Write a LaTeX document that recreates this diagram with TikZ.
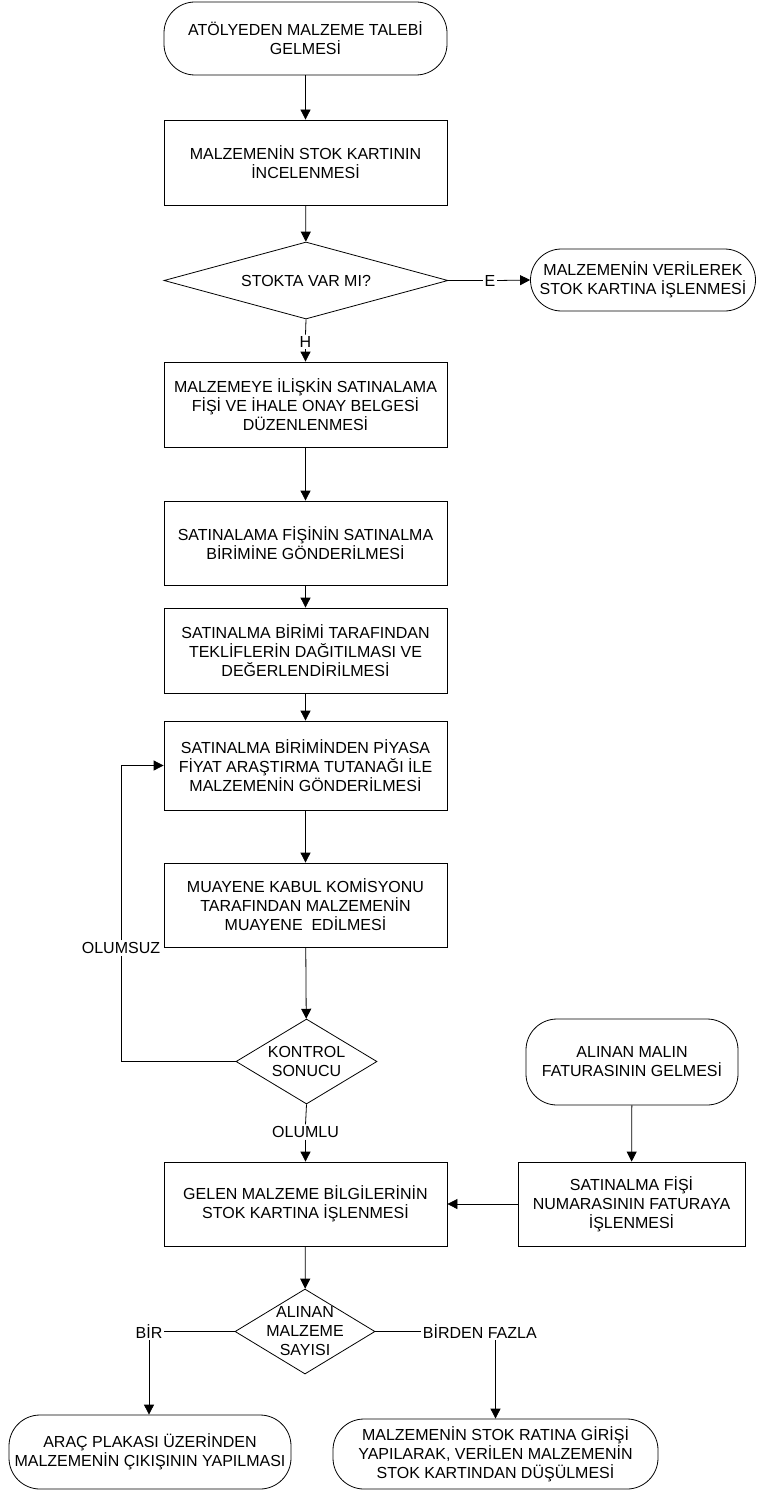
\documentclass[tikz,border=0pt]{standalone}
\usepackage{fontspec}
\setmainfont{Liberation Sans}
\usepackage{tikz}
\usetikzlibrary{shapes.geometric,arrows.meta}
\tikzset{
  box/.style = {draw, rectangle, minimum width=283pt, minimum height=85pt, align=center, inner sep=0pt},
  term/.style = {draw, rectangle, rounded corners=31pt, align=center, inner sep=0pt},
  decision/.style = {draw, diamond, inner sep=0pt},
  every label/.style = {align=center, inner sep=0pt},
  lbl/.style = {inner sep=1.5pt},
  flow/.style = {-{Triangle[width=10pt,length=10pt]}}
}

\begin{document}
\begin{tikzpicture}[x=1pt,y=-1pt, line width=0.8pt, font=\fontsize{16}{19}\selectfont]

  \useasboundingbox (0,0) rectangle (756,1490);

  % main column
  \node[term, minimum width=283pt, minimum height=73pt] (talep) at (305.5,38.5) {ATÖLYEDEN MALZEME TALEBİ\\GELMESİ};
  \node[box] (kart) at (305.5,162.5) {MALZEMENİN STOK KARTININ\\İNCELENMESİ};
  \node[decision, shape aspect=3.69, minimum width=284pt, minimum height=77pt,
        label=center:{STOKTA VAR MI?}] (stok) at (306,280.5) {};
  \node[term, minimum width=225pt, minimum height=62pt] (verilen) at (643,280) {MALZEMENİN VERİLEREK\\STOK KARTINA İŞLENMESİ};
  \node[box] (fis) at (305.5,404.5) {MALZEMEYE İLİŞKİN SATINALAMA\\FİŞİ VE İHALE ONAY BELGESİ\\DÜZENLENMESİ};
  \node[box, minimum height=84pt] (gonder) at (305.5,543) {SATINALAMA FİŞİNİN SATINALMA\\BİRİMİNE GÖNDERİLMESİ};
  \node[box] (teklif) at (305.5,650.5) {SATINALMA BİRİMİ TARAFINDAN\\TEKLİFLERİN DAĞITILMASI VE\\DEĞERLENDİRİLMESİ};
  \node[box, minimum height=89pt] (piyasa) at (305.5,765.5) {SATINALMA BİRİMİNDEN PİYASA\\FİYAT ARAŞTIRMA TUTANAĞI İLE\\MALZEMENİN GÖNDERİLMESİ};
  \node[box, minimum height=84pt] (muayene) at (305.5,905) {MUAYENE KABUL KOMİSYONU\\TARAFINDAN MALZEMENİN\\MUAYENE\ \ EDİLMESİ};
  \node[decision, shape aspect=1.66, minimum width=141pt, minimum height=85pt,
        label=center:{KONTROL\\SONUCU}] (kontrol) at (306.5,1061.5) {};
  \node[box, minimum height=84pt] (gelen) at (305.5,1204) {GELEN MALZEME BİLGİLERİNİN\\STOK KARTINA İŞLENMESİ};
  \node[decision, shape aspect=1.65, minimum width=140pt, minimum height=85pt,
        label=center:{ALINAN\\MALZEME\\SAYISI}] (sayi) at (305,1331.5) {};

  % right branch
  \node[term, minimum width=212pt, minimum height=86pt] (fatura) at (632,1062) {ALINAN MALIN\\FATURASININ GELMESİ};
  \node[box, minimum width=227pt, minimum height=84pt] (numara) at (631.5,1204) {SATINALMA FİŞİ\\NUMARASININ FATURAYA\\İŞLENMESİ};

  % end points
  \node[term, minimum width=282pt, minimum height=74pt] (arac) at (150,1452) {ARAÇ PLAKASI ÜZERİNDEN\\MALZEMENİN ÇIKIŞININ YAPILMASI};
  \node[term, minimum width=325pt, minimum height=70pt] (dusul) at (495.5,1454) {MALZEMENİN STOK RATINA GİRİŞİ\\YAPILARAK, VERİLEN MALZEMENİN\\STOK KARTINDAN DÜŞÜLMESİ};

  % labels
  \node[lbl] (e) at (490,280.5) {E};
  \node[lbl] (h) at (305.5,342) {H};
  \node[lbl] (olumsuz) at (121,948) {OLUMSUZ};
  \node[lbl] (olumlu) at (305.5,1132) {OLUMLU};
  \node[lbl] (bir) at (149,1331.5) {BİR};
  \node[lbl, anchor=west] (fazla) at (421,1331.5) {BİRDEN FAZLA};

  \draw[flow] (talep) -- (kart);
  \draw[flow] (kart) -- (stok);
  \draw (stok.east) -- (e.west);
  \draw[flow] (e.east) -- (verilen.west);
  \draw (stok.south) -- (h.north);
  \draw[flow] (h.south) -- (fis.north);
  \draw[flow] (fis) -- (gonder);
  \draw[flow] (gonder) -- (teklif);
  \draw[flow] (teklif) -- (piyasa);
  \draw[flow] (piyasa) -- (muayene);
  \draw[flow] (muayene) -- (kontrol);
  \draw (kontrol.west) -| (olumsuz.south);
  \draw[flow] (olumsuz.north) |- (piyasa.west);
  \draw (kontrol.south) -- (olumlu.north);
  \draw[flow] (olumlu.south) -- (gelen.north);
  \draw[flow] (fatura) -- (numara);
  \draw[flow] (numara.west) -- (gelen.east);
  \draw[flow] (gelen) -- (sayi);
  \draw (sayi.west) -- (bir.east);
  \draw[flow] (bir.south) -- (bir.south |- arac.north);
  \draw (sayi.east) -- (fazla.west);
  \draw[flow] (fazla.south -| dusul.north) -- (dusul.north);

\end{tikzpicture}
\end{document}
